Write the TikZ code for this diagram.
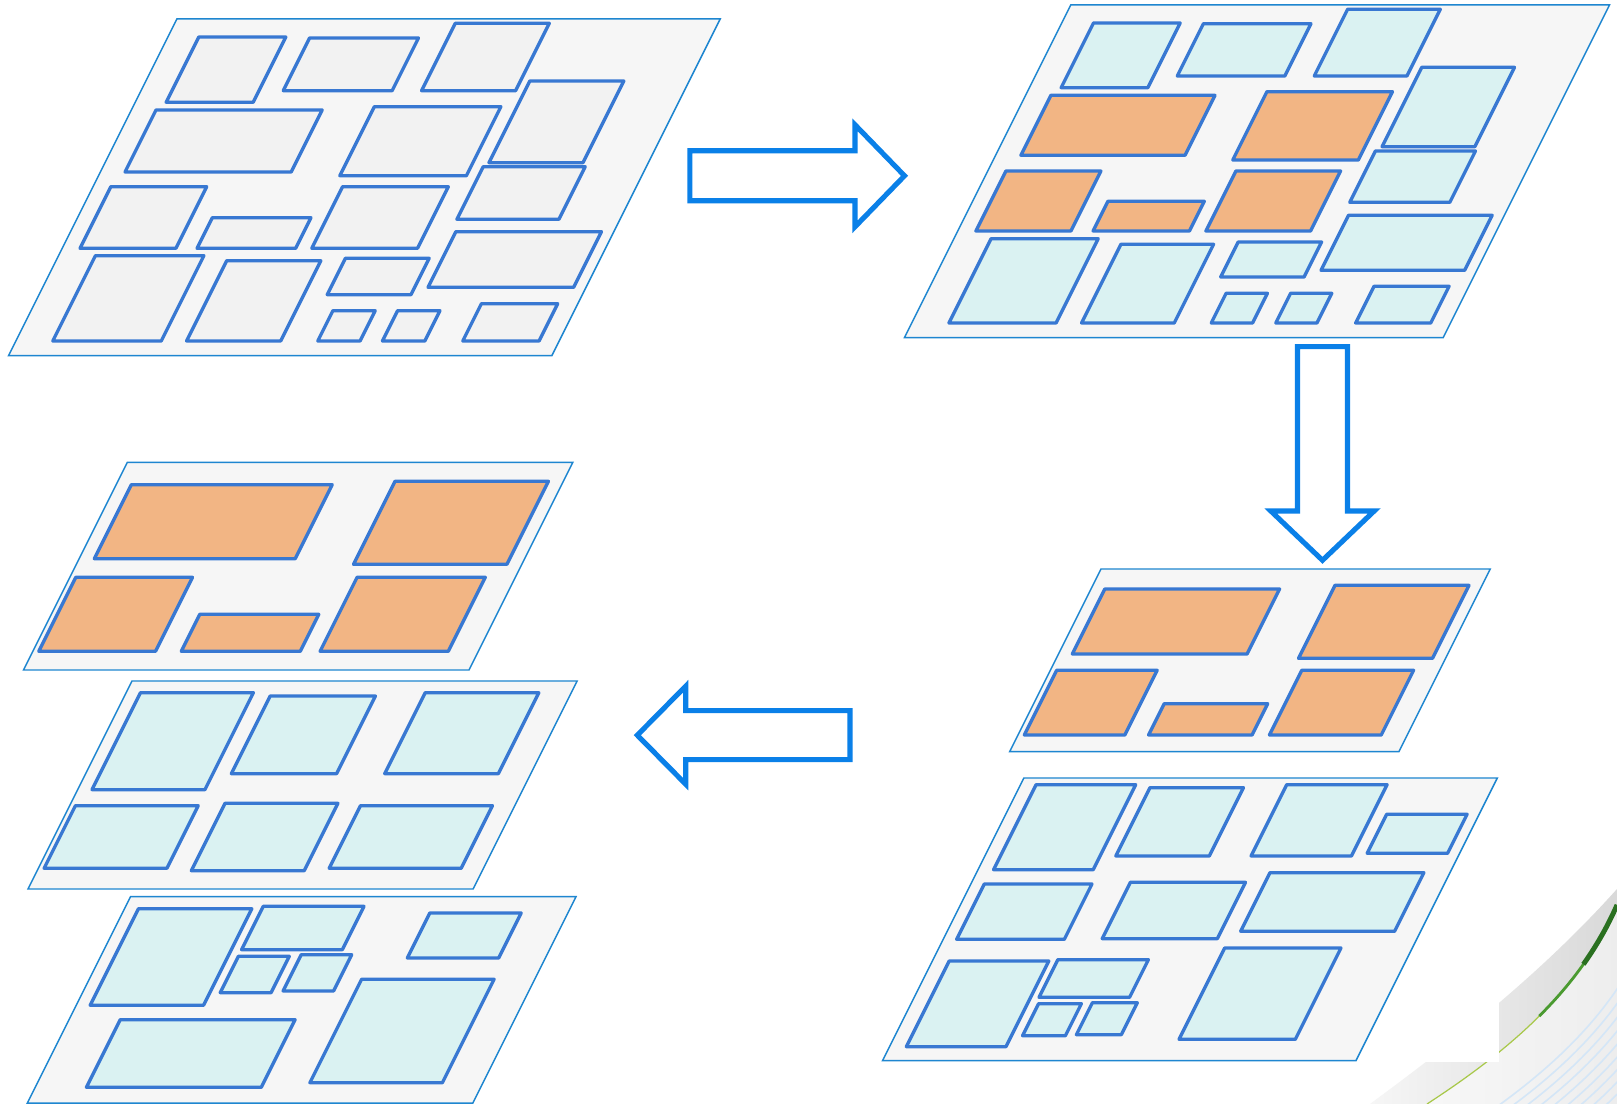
\documentclass[tikz,border=0pt]{standalone}
\usepackage{tikz}

\definecolor{sheetgray}{HTML}{F6F6F6}
\definecolor{sheetblue}{HTML}{1E86D0}
\definecolor{blankgray}{HTML}{F2F2F2}
\definecolor{boxblue}{HTML}{3878D2}
\definecolor{hotorange}{HTML}{F2B584}
\definecolor{coolcyan}{HTML}{DAF2F2}
\definecolor{flowblue}{HTML}{0A80E8}
\definecolor{leafgreen}{HTML}{4A9A30}
\definecolor{darkleaf}{HTML}{2A7020}
\definecolor{limegreen}{HTML}{A8C84A}
\definecolor{streakblue}{HTML}{D4E6F7}

% slanted tile: top-left corner (x,y), top width w, height h (y grows downward)
\newcommand\tile[5]{\draw[#1] (#2,#3) -- ++(#4,0) -- ++({-0.5*#5},#5) -- ++({-#4},0) -- cycle;}

\tikzset{
  sheet/.style={fill=sheetgray, draw=sheetblue, line width=0.42pt, line join=miter},
  blank/.style={fill=blankgray, draw=boxblue, line width=0.95pt, line join=round},
  hot/.style={fill=hotorange, draw=boxblue, line width=0.95pt, line join=round},
  cool/.style={fill=coolcyan, draw=boxblue, line width=0.95pt, line join=round},
  flow/.style={fill=white, draw=flowblue, line width=1.45pt, line join=miter},
  streak/.style={draw=streakblue, line width=0.45pt}
}

\begin{document}
\begin{tikzpicture}[x=0.01cm, y=-0.01cm]
\useasboundingbox (0,0) rectangle (1617,1104);
\fill[white] (0,0) rectangle (1617,1104);

% ---- corner ornament ----
\begin{scope}
  \clip (1370,1104) .. controls (1450,1045) and (1540,975) .. (1617,889) -- (1617,1104) -- cycle;
  \shade[shading angle=45, left color=gray!7, right color=gray!30]
    (1370,889) rectangle (1617,1104);
  % lighter band beyond the green stroke
  \fill[white, opacity=0.55] (1427,1104) .. controls (1510,1050) and (1580,990) .. (1617,905) -- (1617,1104) -- cycle;
  \foreach \k in {0,...,13} {
    \pgfmathsetmacro\d{30+6*\k}
    \draw[streak, shift={(\d,\d)}] (1427,1104) .. controls (1510,1050) and (1580,990) .. (1617,905);
  }
  \draw[limegreen, line width=0.35pt] (1427,1104) .. controls (1510,1050) and (1580,990) .. (1617,905);
  \draw[leafgreen, line width=0.8pt] (1539.25,1016.1) .. controls (1571.75,983.75) and (1598.5,947.5) .. (1617,905);
  \draw[darkleaf, line width=1.4pt] (1583.4,964.3) .. controls (1596.4,945.9) and (1607.75,926.25) .. (1617,905);
\end{scope}
\fill[white] (1300,860) rectangle (1498.7,1061.7);

% ---- sheet 1: plain layout ----
\tile{sheet}{176.9}{19}{543.3}{336.7}
\tile{blank}{198.8}{37}{87}{65.3}
\tile{blank}{309.6}{38}{108.9}{52.7}
\tile{blank}{455.3}{23.3}{94}{67.4}
\tile{blank}{529.8}{81}{94}{81.7}
\tile{blank}{156}{110}{166.2}{62}
\tile{blank}{374.3}{106.7}{126.6}{69}
\tile{blank}{483.2}{166.7}{102}{52.6}
\tile{blank}{110.8}{186.7}{95.9}{61.6}
\tile{blank}{212.3}{217.7}{98.7}{30.6}
\tile{blank}{342.6}{186.7}{105.7}{61.6}
\tile{blank}{455.8}{231.7}{145.7}{55.6}
\tile{blank}{95.4}{255.7}{108.5}{85.3}
\tile{blank}{226.7}{260.7}{94.1}{80.3}
\tile{blank}{345.4}{258.3}{83.8}{36.4}
\tile{blank}{332.9}{310.7}{42.3}{30.3}
\tile{blank}{397.6}{310.7}{42.4}{30.3}
\tile{blank}{481.4}{303.7}{76.3}{37.3}

% ---- sheet 2: classified layout ----
\tile{sheet}{1070.8}{5}{538.7}{332.7}
\tile{cool}{1093.5}{23}{86.7}{64.7}
\tile{cool}{1203.4}{23.7}{107.6}{52.3}
\tile{cool}{1347.6}{9.3}{92.7}{66.7}
\tile{cool}{1421.8}{67.3}{92.7}{79.4}
\tile{hot}{1050.9}{95.3}{164.1}{60}
\tile{hot}{1266.9}{91.7}{125.6}{68.3}
\tile{cool}{1375.4}{151}{100.1}{51.3}
\tile{hot}{1005.9}{171}{95}{60}
\tile{hot}{1107.9}{201.3}{96.4}{29.7}
\tile{hot}{1235.9}{171}{104.7}{60}
\tile{cool}{1348.5}{215.3}{143.7}{55}
\tile{cool}{991.1}{238.7}{107.1}{84.3}
\tile{cool}{1120.9}{244.3}{92.7}{78.7}
\tile{cool}{1238.2}{242}{83.4}{35}
\tile{cool}{1226.1}{293.3}{41.3}{29.7}
\tile{cool}{1290.6}{293.3}{41.2}{29.7}
\tile{cool}{1374}{286.3}{75.1}{36.7}

% ---- sheets 4a/4b: split into two layers ----
\tile{sheet}{1101}{569}{389.2}{182.7}
\tile{hot}{1104.8}{589}{174.8}{65}
\tile{hot}{1335}{585.3}{134}{73}
\tile{hot}{1056.7}{670.3}{100.5}{64.7}
\tile{hot}{1164.2}{703.7}{103.5}{31.3}
\tile{hot}{1301.8}{670.3}{111.8}{64.7}

\tile{sheet}{1023.9}{778}{473.4}{282.7}
\tile{cool}{1036.1}{784.7}{99.6}{85}
\tile{cool}{1150}{787.7}{93.5}{68.3}
\tile{cool}{1286.7}{784.7}{100.4}{71.3}
\tile{cool}{1386.7}{814.3}{80.4}{39}
\tile{cool}{984.3}{884}{107.7}{55.3}
\tile{cool}{1130.4}{882.3}{115.1}{56.4}
\tile{cool}{1270}{872.7}{153.9}{58.6}
\tile{cool}{949.2}{961}{99.6}{85.7}
\tile{cool}{1057.8}{959.7}{90.6}{37.6}
\tile{cool}{1038.6}{1003.7}{42.8}{32}
\tile{cool}{1092.4}{1002.7}{44.9}{32}
\tile{cool}{1224.7}{948}{116.3}{91.3}

% ---- sheets 3a/3b/3c: stacked layers ----
\tile{sheet}{127.4}{462.3}{445.5}{207.7}
\tile{hot}{131.3}{484.7}{200.9}{74}
\tile{hot}{395}{481.3}{153.4}{83}
\tile{hot}{75.8}{577.3}{116.7}{74}
\tile{hot}{199.8}{614.3}{119}{37}
\tile{hot}{357.1}{577.3}{128.2}{74}

\tile{sheet}{132}{681}{445.1}{208}
\tile{cool}{140.5}{692.7}{112.9}{97}
\tile{cool}{270.2}{696}{105.2}{77.7}
\tile{cool}{425.2}{692.7}{113.6}{81}
\tile{cool}{75.4}{805.7}{122.8}{62.6}
\tile{cool}{225}{803.3}{112.9}{67.4}
\tile{cool}{360.5}{805.7}{132}{62.6}

\tile{sheet}{130.5}{896.7}{445.5}{206.5}
\tile{cool}{138.5}{908.7}{113.3}{96.6}
\tile{cool}{263.3}{906.3}{100.7}{43.4}
\tile{cool}{238.4}{956.3}{50.9}{36.4}
\tile{cool}{301.2}{954.7}{50.5}{36.3}
\tile{cool}{429.8}{913}{91.4}{45}
\tile{cool}{361.6}{979.3}{132.5}{103.4}
\tile{cool}{120.2}{1019.7}{174.9}{67.6}

% ---- block arrows ----
\draw[flow] (689.8,150.8) -- (855,150.8) -- (855,124.8) -- (904.5,175.8) -- (855,226.8)
  -- (855,200.8) -- (689.8,200.8) -- cycle;
\draw[flow] (1297.5,346.7) -- (1347.5,346.7) -- (1347.5,511) -- (1374.2,511) -- (1322.5,560.3)
  -- (1270.8,511) -- (1297.5,511) -- cycle;
\draw[flow] (850,710.7) -- (685.7,710.7) -- (685.7,686.2) -- (637.3,735.2) -- (685.7,784.2)
  -- (685.7,759.7) -- (850,759.7) -- cycle;
\end{tikzpicture}
\end{document}
